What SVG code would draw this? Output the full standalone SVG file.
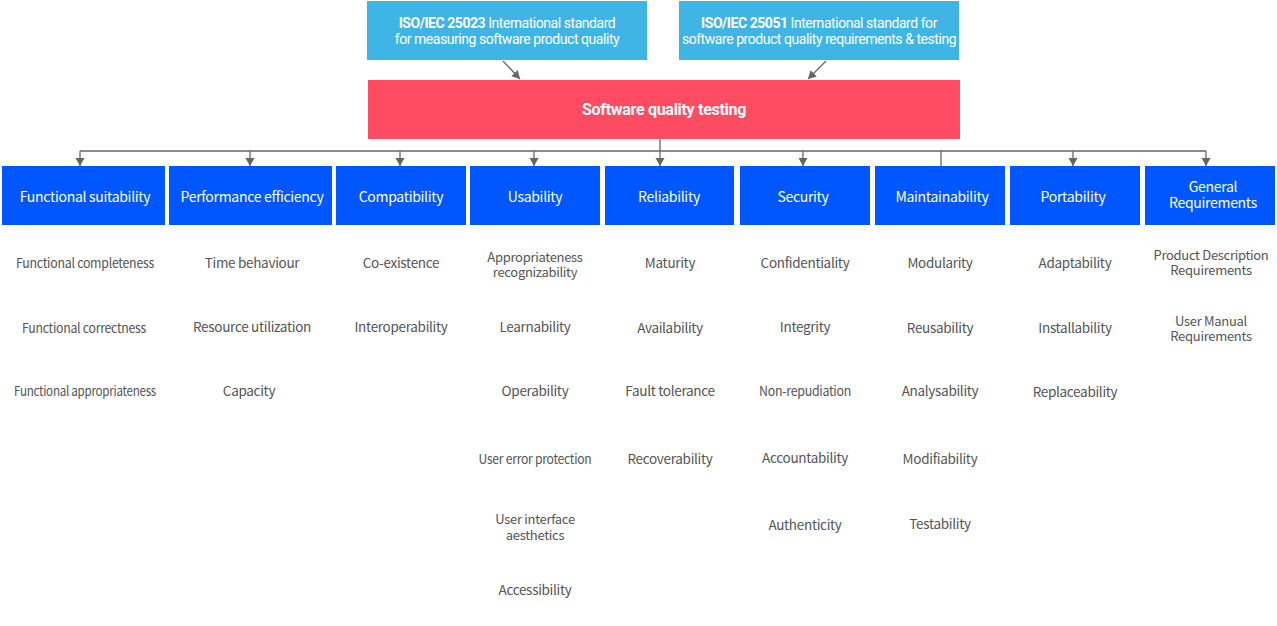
<svg xmlns="http://www.w3.org/2000/svg" width="1277" height="626" viewBox="0 0 1277 626">
<defs>
<marker id="ad" markerWidth="10" markerHeight="10" refX="8" refY="5" orient="auto" markerUnits="userSpaceOnUse" viewBox="0 0 10 10">
<path d="M0,0.5 L8,5 L0,9.5 Z" fill="#666"/>
</marker>
<style>
.std{fill:#3fb5e5}
.top{fill:#ff4c63}
.cat{fill:#0057ff}
.st{font-family:Roboto,"Liberation Sans",sans-serif;font-size:14px;fill:#fff;text-anchor:middle;letter-spacing:-0.45px}
.b{font-weight:bold}
.tt{font-family:Roboto,"Liberation Sans",sans-serif;font-size:16px;font-weight:bold;fill:#fff;text-anchor:middle;letter-spacing:-0.3px}
.ct{font-family:"Noto Sans CJK KR","Noto Sans",sans-serif;font-size:14px;fill:#fff;text-anchor:middle;letter-spacing:-0.3px}
.it{font-family:"Noto Sans CJK KR","Noto Sans",sans-serif;font-size:13.5px;fill:#555;text-anchor:middle;letter-spacing:-0.3px}
.it2{font-size:13px}
.ln{stroke:#666;stroke-width:1.3;fill:none}
</style>
</defs>
<g id="connectors">
<line class="ln" x1="503" y1="61" x2="520" y2="79" marker-end="url(#ad)"/>
<line class="ln" x1="826" y1="61" x2="808" y2="79" marker-end="url(#ad)"/>
<line class="ln" x1="660" y1="139" x2="660" y2="151"/>
<line class="ln" x1="80" y1="151" x2="1206" y2="151"/>
<line class="ln" x1="80" y1="151" x2="80" y2="166" marker-end="url(#ad)"/>
<line class="ln" x1="250" y1="151" x2="250" y2="166" marker-end="url(#ad)"/>
<line class="ln" x1="400" y1="151" x2="400" y2="166" marker-end="url(#ad)"/>
<line class="ln" x1="534" y1="151" x2="534" y2="166" marker-end="url(#ad)"/>
<line class="ln" x1="660" y1="151" x2="660" y2="166" marker-end="url(#ad)"/>
<line class="ln" x1="803" y1="151" x2="803" y2="166" marker-end="url(#ad)"/>
<line class="ln" x1="941" y1="151" x2="941" y2="166"/>
<line class="ln" x1="1073" y1="151" x2="1073" y2="166" marker-end="url(#ad)"/>
<line class="ln" x1="1206" y1="151" x2="1206" y2="166" marker-end="url(#ad)"/>
</g>
<g id="iso25023">
<rect class="std" x="367" y="1" width="280" height="59"/>
<text class="st" x="507" y="28"><tspan class="b">ISO/IEC 25023</tspan> International standard</text>
<text class="st" x="507" y="44">for measuring software product quality</text>
</g>
<g id="iso25051">
<rect class="std" x="679" y="1" width="280" height="59"/>
<text class="st" x="819" y="28"><tspan class="b">ISO/IEC 25051</tspan> International standard for</text>
<text class="st" x="819" y="44">software product quality requirements &amp; testing</text>
</g>
<g id="sqt">
<rect class="top" x="368" y="80" width="592" height="59"/>
<text class="tt" x="664" y="115">Software quality testing</text>
</g>
<g id="c1">
<rect class="cat" x="2" y="166" width="163" height="59"/>
<text class="ct" x="85" y="202">Functional suitability</text>
<text class="it" x="85" y="268" textLength="138" lengthAdjust="spacingAndGlyphs">Functional completeness</text>
<text class="it" x="84" y="333" textLength="124" lengthAdjust="spacingAndGlyphs">Functional correctness</text>
<text class="it" x="85" y="396" textLength="142" lengthAdjust="spacingAndGlyphs">Functional appropriateness</text>
</g>
<g id="c2">
<rect class="cat" x="169" y="166" width="163" height="59"/>
<text class="ct" x="252" y="202">Performance efficiency</text>
<text class="it" x="252" y="268">Time behaviour</text>
<text class="it" x="252" y="332">Resource utilization</text>
<text class="it" x="249" y="396">Capacity</text>
</g>
<g id="c3">
<rect class="cat" x="336" y="166" width="130" height="59"/>
<text class="ct" x="401" y="202">Compatibility</text>
<text class="it" x="401" y="268">Co-existence</text>
<text class="it" x="401" y="332">Interoperability</text>
</g>
<g id="c4">
<rect class="cat" x="470" y="166" width="130" height="59"/>
<text class="ct" x="535" y="202">Usability</text>
<text class="it it2" x="535" y="261.5">Appropriateness</text>
<text class="it it2" x="535" y="277">recognizability</text>
<text class="it" x="535" y="332">Learnability</text>
<text class="it" x="535" y="396">Operability</text>
<text class="it" x="535" y="464" textLength="113" lengthAdjust="spacingAndGlyphs">User error protection</text>
<text class="it it2" x="535" y="523.5">User interface</text>
<text class="it it2" x="535" y="540">aesthetics</text>
<text class="it" x="535" y="595">Accessibility</text>
</g>
<g id="c5">
<rect class="cat" x="605" y="166" width="129" height="59"/>
<text class="ct" x="669" y="202">Reliability</text>
<text class="it" x="670" y="268">Maturity</text>
<text class="it" x="670" y="333">Availability</text>
<text class="it" x="670" y="396">Fault tolerance</text>
<text class="it" x="670" y="464">Recoverability</text>
</g>
<g id="c6">
<rect class="cat" x="740" y="166" width="130" height="59"/>
<text class="ct" x="803" y="202">Security</text>
<text class="it" x="805" y="268">Confidentiality</text>
<text class="it" x="805" y="332">Integrity</text>
<text class="it" x="805" y="396" textLength="92" lengthAdjust="spacingAndGlyphs">Non-repudiation</text>
<text class="it" x="805" y="463">Accountability</text>
<text class="it" x="805" y="530">Authenticity</text>
</g>
<g id="c7">
<rect class="cat" x="875" y="166" width="130" height="59"/>
<text class="ct" x="942" y="202">Maintainability</text>
<text class="it" x="940" y="268">Modularity</text>
<text class="it" x="940" y="333">Reusability</text>
<text class="it" x="940" y="396">Analysability</text>
<text class="it" x="940" y="464">Modifiability</text>
<text class="it" x="940" y="529">Testability</text>
</g>
<g id="c8">
<rect class="cat" x="1010" y="166" width="130" height="59"/>
<text class="ct" x="1073" y="202">Portability</text>
<text class="it" x="1075" y="268">Adaptability</text>
<text class="it" x="1075" y="333">Installability</text>
<text class="it" x="1075" y="397">Replaceability</text>
</g>
<g id="c9">
<rect class="cat" x="1145" y="166" width="130" height="59"/>
<text class="ct" x="1213" y="192">General</text>
<text class="ct" x="1213" y="208">Requirements</text>
<text class="it it2" x="1211" y="259.5" textLength="115" lengthAdjust="spacingAndGlyphs">Product Description</text>
<text class="it it2" x="1211" y="275">Requirements</text>
<text class="it it2" x="1211" y="325.5">User Manual</text>
<text class="it it2" x="1211" y="341">Requirements</text>
</g>
</svg>
